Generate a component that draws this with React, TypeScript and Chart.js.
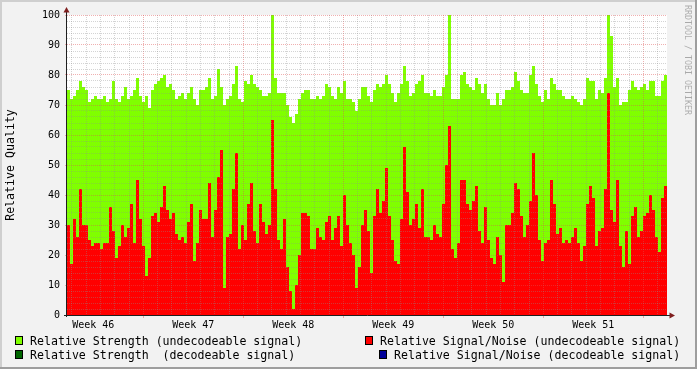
import { useEffect, useRef } from "react";
import { Chart, registerables } from "chart.js";

Chart.register(...registerables);

// ---- data (one sample every ~5 hours) ----
const strength: number[] = [
  75, 72, 73, 75, 78, 76, 75, 71, 72, 73, 72, 72, 73, 71, 72, 78, 72, 71, 73, 76,
  72, 73, 75, 79, 73, 71, 73, 69, 75, 77, 78, 79, 80, 76, 77, 75, 72, 73, 74, 72,
  74, 76, 72, 70, 75, 75, 76, 79, 72, 73, 82, 76, 70, 72, 73, 77, 83, 72, 71, 78,
  77, 80, 77, 76, 75, 73, 73, 74, 100, 79, 74, 74, 74, 70, 66, 64, 67, 72, 74, 75,
  75, 72, 72, 73, 72, 73, 77, 76, 73, 72, 76, 74, 78, 72, 72, 71, 68, 72, 76, 76,
  73, 71, 75, 77, 76, 77, 80, 77, 74, 71, 74, 77, 83, 78, 73, 74, 77, 78, 80, 74,
  74, 73, 75, 73, 73, 76, 80, 100, 72, 72, 72, 80, 81, 77, 76, 75, 79, 77, 74, 77,
  72, 70, 70, 74, 70, 72, 75, 75, 76, 81, 78, 75, 74, 74, 80, 83, 77, 73, 71, 75,
  72, 79, 77, 75, 75, 73, 72, 72, 73, 72, 71, 70, 72, 79, 78, 78, 72, 75, 74, 79,
  100, 93, 76, 79, 70, 71, 71, 75, 78, 76, 75, 76, 77, 75, 78, 78, 73, 73, 78, 80,
];

const signalNoise: number[] = [
  30, 17, 32, 26, 42, 30, 30, 25, 23, 24, 24, 22, 24, 24, 36, 28, 19, 23, 30, 26,
  29, 37, 24, 45, 32, 23, 13, 19, 33, 34, 31, 36, 43, 35, 32, 34, 27, 25, 26, 24,
  31, 37, 18, 24, 35, 32, 32, 44, 26, 35, 46, 55, 9, 26, 27, 42, 54, 22, 30, 25,
  37, 44, 28, 24, 37, 31, 27, 30, 65, 42, 25, 22, 32, 16, 8, 2, 10, 20, 34, 34,
  33, 22, 22, 29, 26, 25, 31, 33, 25, 29, 33, 23, 40, 30, 24, 20, 9, 16, 30, 35,
  28, 14, 33, 42, 34, 38, 49, 33, 25, 18, 17, 32, 56, 41, 30, 32, 37, 29, 42, 26,
  26, 25, 30, 27, 26, 37, 50, 63, 22, 19, 24, 45, 45, 37, 35, 38, 43, 28, 24, 36,
  25, 19, 17, 26, 20, 11, 30, 30, 34, 44, 42, 33, 26, 30, 38, 54, 40, 25, 18, 24,
  25, 45, 37, 27, 29, 24, 25, 24, 26, 29, 24, 18, 23, 37, 43, 39, 23, 28, 29, 42,
  74, 35, 31, 45, 23, 16, 28, 17, 33, 36, 26, 28, 33, 34, 40, 35, 26, 21, 39, 43,
];

const weekLabels = ["Week 46", "Week 47", "Week 48", "Week 49", "Week 50", "Week 51"];
const yTickLabels = [0, 10, 20, 30, 40, 50, 60, 70, 80, 90, 100];
const yMinorStep = 2;

const legendItems = [
  { label: "Relative Strength (undecodeable signal)", color: "#80FF00" },
  { label: "Relative Signal/Noise (undecodeable signal)", color: "#FF0000" },
  { label: "Relative Strength  (decodeable signal)", color: "#006600" },
  { label: "Relative Signal/Noise (decodeable signal)", color: "#000099" },
];

// time axis in days since Monday of week 46
const START_DAY = 1.66;
const STEP_DAYS = 0.21;
const END_DAY = START_DAY + strength.length * STEP_DAYS;

const FONT = "'DejaVu Sans Mono', monospace";
const GRID = "rgba(143,143,143,0.38)";
const MGRID = "rgba(222,79,79,0.45)";
const CLEAR = "rgba(0,0,0,0)";

function toPoints(arr: number[]) {
  const pts = arr.map((v, i) => ({ x: START_DAY + i * STEP_DAYS, y: v }));
  pts.push({ x: END_DAY, y: arr[arr.length - 1] });
  return pts;
}

const rrdPlugin = {
  id: "rrd",
  beforeDraw(chart: any) {
    const { ctx, width, height, chartArea: a } = chart;
    ctx.save();
    ctx.fillStyle = "#F2F2F2";
    ctx.fillRect(0, 0, width, height);
    ctx.fillStyle = "#FFFFFF";
    ctx.fillRect(a.left, a.top, a.right - a.left, a.bottom - a.top);
    ctx.restore();
  },
  afterDraw(chart: any) {
    const { ctx, width, height, chartArea: a } = chart;
    ctx.save();
    // axes
    ctx.strokeStyle = "#1F1F1F";
    ctx.lineWidth = 1;
    ctx.beginPath();
    ctx.moveTo(a.left - 0.5, a.bottom + 2);
    ctx.lineTo(a.left - 0.5, a.top - 4);
    ctx.moveTo(a.left - 3, a.bottom + 0.5);
    ctx.lineTo(a.right + 4, a.bottom + 0.5);
    ctx.stroke();
    // arrows
    ctx.fillStyle = "#7F1F1F";
    ctx.beginPath();
    ctx.moveTo(a.left - 0.5, a.top - 8);
    ctx.lineTo(a.left - 3.5, a.top - 2.5);
    ctx.lineTo(a.left + 2.5, a.top - 2.5);
    ctx.closePath();
    ctx.fill();
    ctx.beginPath();
    ctx.moveTo(a.right + 8, a.bottom + 0.5);
    ctx.lineTo(a.right + 2.5, a.bottom - 2.5);
    ctx.lineTo(a.right + 2.5, a.bottom + 3.5);
    ctx.closePath();
    ctx.fill();

    // y title
    ctx.fillStyle = "#000";
    ctx.font = `11.6px ${FONT}`;
    ctx.save();
    ctx.translate(11, (a.top + a.bottom) / 2);
    ctx.rotate(-Math.PI / 2);
    ctx.textAlign = "center";
    ctx.textBaseline = "middle";
    ctx.fillText("Relative Quality", 0, 0);
    ctx.restore();

    // legend
    const rows = [
      [legendItems[0], 15, 30, 336],
      [legendItems[1], 365, 380, 336],
      [legendItems[2], 15, 30, 350],
      [legendItems[3], 379, 394, 350],
    ] as const;
    ctx.textAlign = "left";
    ctx.textBaseline = "alphabetic";
    for (const [item, bx, tx, by] of rows) {
      ctx.fillStyle = item.color;
      ctx.fillRect(bx, by, 8, 9);
      ctx.strokeStyle = "#000";
      ctx.lineWidth = 1;
      ctx.strokeRect(bx + 0.5, by + 0.5, 7, 8);
      ctx.fillStyle = "#000";
      ctx.fillText(item.label, tx, by + 8.5);
    }

    // watermark
    ctx.save();
    ctx.translate(687, 60);
    ctx.rotate(Math.PI / 2);
    ctx.fillStyle = "rgba(0,0,0,0.3)";
    ctx.font = `8.3px ${FONT}`;
    ctx.textAlign = "center";
    ctx.textBaseline = "middle";
    ctx.fillText("RRDTOOL / TOBI OETIKER", 0, 0);
    ctx.restore();

    // frame shades
    ctx.fillStyle = "#CFCFCF";
    ctx.fillRect(0, 0, width, 2);
    ctx.fillRect(0, 0, 2, height);
    ctx.fillStyle = "#9E9E9E";
    ctx.fillRect(0, height - 2, width, 2);
    ctx.fillRect(width - 2, 0, 2, height);
    ctx.restore();
  },
};

export default function App() {
  const ref = useRef<HTMLCanvasElement | null>(null);

  useEffect(() => {
    if (!ref.current) return;
    const chart = new Chart(ref.current, {
      type: "line",
      data: {
        datasets: [
          {
            label: "Relative Signal/Noise (undecodeable signal)",
            data: toPoints(signalNoise),
            stepped: true,
            fill: "origin",
            backgroundColor: "#FF0000",
            borderColor: CLEAR,
            borderWidth: 0,
            pointRadius: 0,
            order: 1,
          },
          {
            label: "Relative Strength (undecodeable signal)",
            data: toPoints(strength),
            stepped: true,
            fill: "origin",
            backgroundColor: "#80FF00",
            borderColor: CLEAR,
            borderWidth: 0,
            pointRadius: 0,
            order: 2,
          },
        ],
      },
      options: {
        responsive: false,
        animation: false,
        devicePixelRatio: 1,
        parsing: false,
        layout: { padding: { left: 0, top: 15, right: 30, bottom: 0 } },
        plugins: { legend: { display: false }, tooltip: { enabled: false } },
        scales: {
          x: {
            type: "linear",
            min: START_DAY,
            max: END_DAY,
            z: 1,
            afterFit(scale: any) {
              scale.height = 54;
            },
            afterBuildTicks(scale: any) {
              const ticks: any[] = [];
              for (let d = Math.ceil(START_DAY); d <= Math.floor(END_DAY); d++) ticks.push({ value: d });
              weekLabels.forEach((_, k) => ticks.push({ value: 3.5 + 7 * k }));
              ticks.sort((p, q) => p.value - q.value);
              scale.ticks = ticks;
            },
            ticks: {
              autoSkip: false,
              maxRotation: 0,
              padding: 1,
              color: "#000",
              font: { family: FONT, size: 10 },
              callback(value: any) {
                const v = Number(value);
                const k = Math.round((v - 3.5) / 7);
                if (Math.abs(v - (3.5 + 7 * k)) < 1e-6 && weekLabels[k]) return weekLabels[k];
                return "";
              },
            },
            grid: {
              z: 1,
              lineWidth: 1,
              tickLength: 3,
              color: (ctx: any) => {
                const v = ctx.tick ? ctx.tick.value : 0;
                if (Math.abs(v - Math.round(v)) > 1e-6) return CLEAR;
                return Math.round(v) % 7 === 0 ? MGRID : GRID;
              },
              tickColor: (ctx: any) => {
                const v = ctx.tick ? ctx.tick.value : 0;
                if (Math.abs(v - Math.round(v)) > 1e-6) return CLEAR;
                return Math.round(v) % 7 === 0 ? MGRID : CLEAR;
              },
            },
            border: { display: false, dash: [1, 1] },
          },
          y: {
            type: "linear",
            min: 0,
            max: 100,
            z: 1,
            afterFit(scale: any) {
              scale.width = 67;
            },
            afterBuildTicks(scale: any) {
              const ticks: any[] = [];
              for (let v = 0; v <= 100; v += yMinorStep) ticks.push({ value: v });
              scale.ticks = ticks;
            },
            ticks: {
              autoSkip: false,
              padding: 5,
              color: "#000",
              font: { family: FONT, size: 10 },
              callback(value: any) {
                const v = Number(value);
                return yTickLabels.includes(v) ? String(v) : "";
              },
            },
            grid: {
              z: 1,
              lineWidth: 1,
              tickLength: 2,
              color: (ctx: any) => {
                const v = ctx.tick ? ctx.tick.value : 0;
                return v % 10 === 0 ? MGRID : GRID;
              },
              tickColor: (ctx: any) => {
                const v = ctx.tick ? ctx.tick.value : 0;
                return v % 10 === 0 ? MGRID : CLEAR;
              },
            },
            border: { display: false, dash: [1, 1] },
          },
        },
      },
      plugins: [rrdPlugin],
    } as any);
    return () => chart.destroy();
  }, []);

  return (
    <div style={{ position: "absolute", left: 0, top: 0, width: 697, height: 369 }}>
      <canvas ref={ref} width={697} height={369} style={{ display: "block", width: 697, height: 369 }} />
    </div>
  );
}
